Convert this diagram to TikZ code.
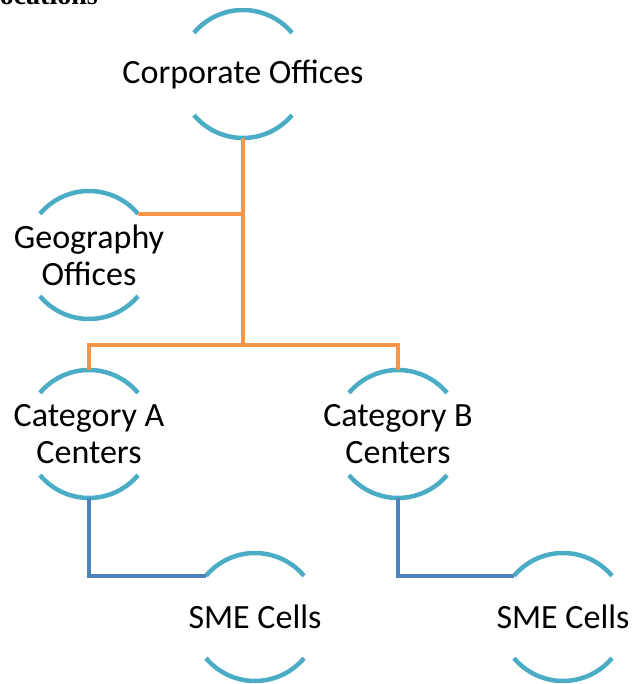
\documentclass[tikz,border=0pt]{standalone}
\usepackage{fontspec}
\setmainfont{Liberation Serif}
\newfontfamily\boxfont{Carlito}
\definecolor{ringteal}{HTML}{4BACC6}
\definecolor{linkorange}{HTML}{F79646}
\definecolor{linkblue}{HTML}{4F81BD}
\tikzset{
  unit/.style = {circle, minimum size = 128pt, inner sep = 0pt, outer sep = 0pt},
  caption/.style = {font = \boxfont\fontsize{34}{37}\selectfont, align = center},
  ring/.style = {draw = ringteal, line width = 4.5pt},
  trunk/.style = {draw = linkorange, line width = 4pt},
  branch/.style = {draw = linkblue, line width = 4pt},
  heading/.style = {font = \bfseries\fontsize{28}{32}\selectfont, inner sep = 0pt}
}

\begin{document}
\begin{tikzpicture}[x = 1pt, y = 1pt]

			\useasboundingbox (0, 0) rectangle (633, 684);

			\node[heading, anchor = base east] (head) at (98, 679) {Locations}; % heading line above

			\begin{scope}
				\clip (0, 0) rectangle (633, 675);

				\node[unit, label = {[caption]center:Corporate Offices}] (corp) at (243, 610) {};
				\node[unit, label = {[caption]center:Geography\\Offices}] (geo) at (89, 429) {};
				\node[unit, label = {[caption]center:Category A\\Centers}] (catA) at (89, 250) {};
				\node[unit, label = {[caption]center:Category B\\Centers}] (catB) at (398, 250) {};
				\node[unit, label = {[caption]center:SME Cells}] (smeA) at (255, 67) {};
				\node[unit, label = {[caption]center:SME Cells}] (smeB) at (563, 67) {};

				% open rings round each unit
				\foreach \n in {corp, geo, catA, catB, smeA, smeB}{
					\draw[ring] (\n.140) arc[start angle = 140, end angle = 40, radius = 64pt];
					\draw[ring] (\n.220) arc[start angle = 220, end angle = 320, radius = 64pt];
				}
			\end{scope}

			\coordinate (bus) at (243, 339);

			\draw[trunk] (geo.40) -- (geo.40 -| corp.south);
			\draw[trunk] (corp.south) -- (bus);
			\draw[trunk] (catA.north) -- (catA.north |- bus) -- (catB.north |- bus) -- (catB.north);

			\draw[branch] (catA.south) |- (smeA.140);
			\draw[branch] (catB.south) |- (smeB.140);
		\end{tikzpicture}
\end{document}
